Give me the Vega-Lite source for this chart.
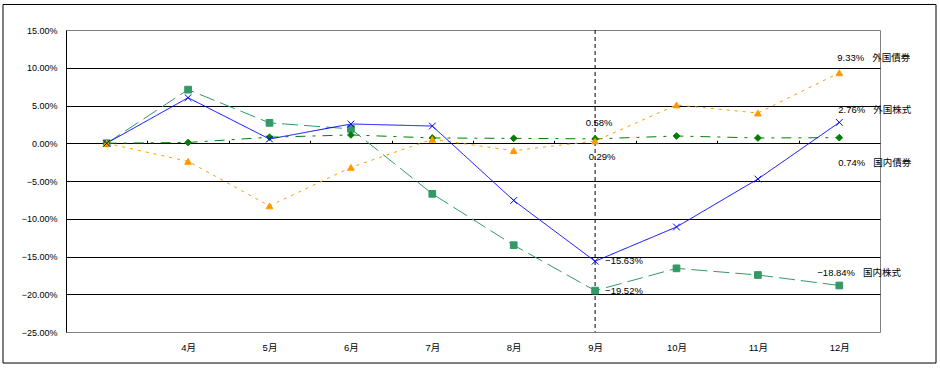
{
  "$schema": "https://vega.github.io/schema/vega-lite/v6.json",
  "autosize": {"type": "none"},
  "width": 814,
  "height": 302,
  "padding": {"left": 66, "top": 30, "right": 60, "bottom": 36},
  "background": "white",
  "config": {
    "view": {"stroke": "#808080", "strokeWidth": 1},
    "font": "Liberation Sans, Noto Sans CJK JP",
    "text": {"font": "Liberation Sans, Noto Sans CJK JP", "fontSize": 9.5, "color": "black"},
    "axis": {"labelFont": "Liberation Sans, Noto Sans CJK JP", "labelColor": "black"}
  },
  "datasets": {
    "d": [
      {"s": "国内株式", "i": 0, "v": 0.0},
      {"s": "国内株式", "i": 1, "v": 0.071},
      {"s": "国内株式", "i": 2, "v": 0.027},
      {"s": "国内株式", "i": 3, "v": 0.019},
      {"s": "国内株式", "i": 4, "v": -0.067},
      {"s": "国内株式", "i": 5, "v": -0.135},
      {"s": "国内株式", "i": 6, "v": -0.1952},
      {"s": "国内株式", "i": 7, "v": -0.1657},
      {"s": "国内株式", "i": 8, "v": -0.1745},
      {"s": "国内株式", "i": 9, "v": -0.1884},
      {"s": "国内債券", "i": 0, "v": 0.0},
      {"s": "国内債券", "i": 1, "v": 0.001},
      {"s": "国内債券", "i": 2, "v": 0.008},
      {"s": "国内債券", "i": 3, "v": 0.011},
      {"s": "国内債券", "i": 4, "v": 0.007},
      {"s": "国内債券", "i": 5, "v": 0.0065},
      {"s": "国内債券", "i": 6, "v": 0.0058},
      {"s": "国内債券", "i": 7, "v": 0.0096},
      {"s": "国内債券", "i": 8, "v": 0.007},
      {"s": "国内債券", "i": 9, "v": 0.0074},
      {"s": "外国債券", "i": 0, "v": 0.0},
      {"s": "外国債券", "i": 1, "v": -0.024},
      {"s": "外国債券", "i": 2, "v": -0.083},
      {"s": "外国債券", "i": 3, "v": -0.032},
      {"s": "外国債券", "i": 4, "v": 0.0052},
      {"s": "外国債券", "i": 5, "v": -0.0098},
      {"s": "外国債券", "i": 6, "v": 0.0029},
      {"s": "外国債券", "i": 7, "v": 0.0507},
      {"s": "外国債券", "i": 8, "v": 0.040},
      {"s": "外国債券", "i": 9, "v": 0.0933},
      {"s": "外国株式", "i": 0, "v": 0.0},
      {"s": "外国株式", "i": 1, "v": 0.0603},
      {"s": "外国株式", "i": 2, "v": 0.0056},
      {"s": "外国株式", "i": 3, "v": 0.0255},
      {"s": "外国株式", "i": 4, "v": 0.0228},
      {"s": "外国株式", "i": 5, "v": -0.0758},
      {"s": "外国株式", "i": 6, "v": -0.1563},
      {"s": "外国株式", "i": 7, "v": -0.1109},
      {"s": "外国株式", "i": 8, "v": -0.0474},
      {"s": "外国株式", "i": 9, "v": 0.0276}
    ]
  },
  "data": {"name": "d"},
  "resolve": {"axis": {"x": "independent", "y": "independent"}},
  "layer": [
    {
      "data": {"values": [{}]},
      "mark": {"type": "rect", "fill": "transparent", "stroke": "black", "strokeWidth": 1, "clip": false},
      "encoding": {
        "x": {"datum": -1.274, "type": "quantitative", "scale": {"domain": [-0.5, 9.5], "nice": false, "zero": false}, "axis": null},
        "x2": {"datum": 10.188},
        "y": {"datum": 0.1838, "type": "quantitative", "scale": {"domain": [-0.25, 0.15], "nice": false, "zero": false}, "axis": null},
        "y2": {"datum": -0.2911}
      }
    },
    {
      "mark": {"type": "line", "strokeWidth": 1},
      "encoding": {
        "x": {
          "field": "i", "type": "quantitative",
          "scale": {"domain": [-0.5, 9.5], "nice": false, "zero": false},
          "axis": {"orient": "bottom", "values": [1, 2, 3, 4, 5, 6, 7, 8, 9], "labelExpr": "(datum.value + 3) + '月'", "grid": false, "domain": false, "ticks": false, "labelPadding": 10, "labelFontSize": 9.5, "title": null}
        },
        "y": {
          "field": "v", "type": "quantitative",
          "scale": {"domain": [-0.25, 0.15], "nice": false, "zero": false},
          "axis": {
            "orient": "left",
            "values": [-0.25, -0.2, -0.15, -0.1, -0.05, 0, 0.05, 0.1, 0.15],
            "format": ".2%",
            "grid": false,
            "domain": true, "domainColor": "black",
            "ticks": false, "labelPadding": 9, "labelFontSize": 9, "title": null
          }
        },
        "color": {"field": "s", "type": "nominal", "scale": {"domain": ["国内株式", "国内債券", "外国債券", "外国株式"], "range": ["#339966", "#008000", "#FF9900", "#0000FF"]}, "legend": null},
        "strokeDash": {"field": "s", "type": "nominal", "scale": {"domain": ["国内株式", "国内債券", "外国債券", "外国株式"], "range": [[16, 6], [10, 7, 3, 7], [3, 5], [1, 0]]}, "legend": null}
      }
    },
    {
      "data": {"values": [{}]},
      "mark": {"type": "rule", "strokeDash": [4, 3], "color": "black", "strokeWidth": 1},
      "encoding": {
        "x": {
          "datum": 6, "type": "quantitative",
          "scale": {"domain": [-0.5, 9.5], "nice": false, "zero": false},
          "axis": {"orient": "top", "offset": -113.25, "values": [0.5, 1.5, 2.5, 3.5, 4.5, 5.5, 6.5, 7.5, 8.5], "labels": false, "domain": false, "grid": false, "ticks": true, "tickSize": 3, "tickColor": "black", "title": null}
        }
      }
    },
    {
      "mark": {"type": "point", "filled": true, "size": 45, "opacity": 1, "strokeWidth": 1},
      "encoding": {
        "x": {"field": "i", "type": "quantitative", "scale": {"domain": [-0.5, 9.5], "nice": false, "zero": false}, "axis": null},
        "y": {"field": "v", "type": "quantitative", "scale": {"domain": [-0.25, 0.15], "nice": false, "zero": false},
          "axis": {"orient": "left", "values": [-0.2, -0.15, -0.1, -0.05, 0, 0.05, 0.1], "grid": true, "gridColor": "black", "gridOpacity": 1, "labels": false, "domain": false, "ticks": false, "title": null}},
        "shape": {"field": "s", "type": "nominal", "scale": {"domain": ["国内株式", "国内債券", "外国債券", "外国株式"], "range": ["square", "diamond", "triangle-up", "M-1,-1L1,1M-1,1L1,-1"]}, "legend": null},
        "fill": {"field": "s", "type": "nominal", "scale": {"domain": ["国内株式", "国内債券", "外国債券", "外国株式"], "range": ["#339966", "#008000", "#FF9900", "#0000FF"]}, "legend": null},
        "stroke": {"field": "s", "type": "nominal", "scale": {"domain": ["国内株式", "国内債券", "外国債券", "外国株式"], "range": ["#339966", "#008000", "#FF9900", "#0000FF"]}, "legend": null}
      }
    },
    {
      "transform": [{"filter": "datum.s == '国内債券' && datum.i == 6"}],
      "mark": {"type": "text", "align": "center", "baseline": "middle", "dx": 4, "dy": -16},
      "encoding": {
        "x": {"field": "i", "type": "quantitative", "scale": {"domain": [-0.5, 9.5], "nice": false, "zero": false}, "axis": null},
        "y": {"field": "v", "type": "quantitative", "scale": {"domain": [-0.25, 0.15], "nice": false, "zero": false}, "axis": null},
        "text": {"field": "v", "type": "quantitative", "format": ".2%"}
      }
    },
    {
      "transform": [{"filter": "datum.s == '外国債券' && datum.i == 6"}],
      "mark": {"type": "text", "align": "center", "baseline": "middle", "dx": 7, "dy": 16},
      "encoding": {
        "x": {"field": "i", "type": "quantitative", "scale": {"domain": [-0.5, 9.5], "nice": false, "zero": false}, "axis": null},
        "y": {"field": "v", "type": "quantitative", "scale": {"domain": [-0.25, 0.15], "nice": false, "zero": false}, "axis": null},
        "text": {"field": "v", "type": "quantitative", "format": ".2%"}
      }
    },
    {
      "transform": [{"filter": "(datum.s == '外国株式' || datum.s == '国内株式') && datum.i == 6"}],
      "mark": {"type": "text", "align": "left", "baseline": "middle", "dx": 10, "dy": 0},
      "encoding": {
        "x": {"field": "i", "type": "quantitative", "scale": {"domain": [-0.5, 9.5], "nice": false, "zero": false}, "axis": null},
        "y": {"field": "v", "type": "quantitative", "scale": {"domain": [-0.25, 0.15], "nice": false, "zero": false}, "axis": null},
        "text": {"field": "v", "type": "quantitative", "format": ".2%"}
      }
    },
    {
      "transform": [{"filter": "datum.s == '外国債券' && datum.i == 9"}, {"calculate": "format(datum.v, '.2%') + '\u00a0\u00a0\u00a0' + datum.s", "as": "lbl"}],
      "mark": {"type": "text", "align": "left", "baseline": "middle", "dx": -2, "dy": -14.5},
      "encoding": {
        "x": {"field": "i", "type": "quantitative", "scale": {"domain": [-0.5, 9.5], "nice": false, "zero": false}, "axis": null},
        "y": {"field": "v", "type": "quantitative", "scale": {"domain": [-0.25, 0.15], "nice": false, "zero": false}, "axis": null},
        "text": {"field": "lbl", "type": "nominal"}
      }
    },
    {
      "transform": [{"filter": "datum.s == '外国株式' && datum.i == 9"}, {"calculate": "format(datum.v, '.2%') + '\u00a0\u00a0\u00a0' + datum.s", "as": "lbl"}],
      "mark": {"type": "text", "align": "left", "baseline": "middle", "dx": -1, "dy": -12.5},
      "encoding": {
        "x": {"field": "i", "type": "quantitative", "scale": {"domain": [-0.5, 9.5], "nice": false, "zero": false}, "axis": null},
        "y": {"field": "v", "type": "quantitative", "scale": {"domain": [-0.25, 0.15], "nice": false, "zero": false}, "axis": null},
        "text": {"field": "lbl", "type": "nominal"}
      }
    },
    {
      "transform": [{"filter": "datum.s == '国内債券' && datum.i == 9"}, {"calculate": "format(datum.v, '.2%') + '\u00a0\u00a0\u00a0' + datum.s", "as": "lbl"}],
      "mark": {"type": "text", "align": "left", "baseline": "middle", "dx": -1, "dy": 25},
      "encoding": {
        "x": {"field": "i", "type": "quantitative", "scale": {"domain": [-0.5, 9.5], "nice": false, "zero": false}, "axis": null},
        "y": {"field": "v", "type": "quantitative", "scale": {"domain": [-0.25, 0.15], "nice": false, "zero": false}, "axis": null},
        "text": {"field": "lbl", "type": "nominal"}
      }
    },
    {
      "transform": [{"filter": "datum.s == '国内株式' && datum.i == 9"}, {"calculate": "format(datum.v, '.2%') + '\u00a0\u00a0\u00a0' + datum.s", "as": "lbl"}],
      "mark": {"type": "text", "align": "left", "baseline": "middle", "dx": -22, "dy": -12},
      "encoding": {
        "x": {"field": "i", "type": "quantitative", "scale": {"domain": [-0.5, 9.5], "nice": false, "zero": false}, "axis": null},
        "y": {"field": "v", "type": "quantitative", "scale": {"domain": [-0.25, 0.15], "nice": false, "zero": false}, "axis": null},
        "text": {"field": "lbl", "type": "nominal"}
      }
    }
  ]
}
